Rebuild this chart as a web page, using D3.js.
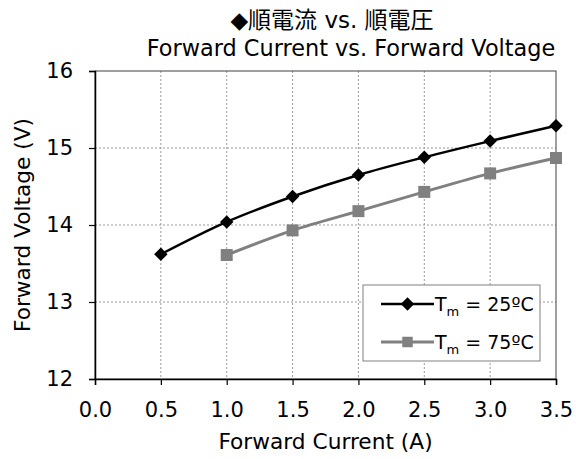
<!DOCTYPE html>
<html>
<head>
<meta charset="utf-8">
<script src="https://cdn.jsdelivr.net/npm/d3@7"></script>
<style>
  body { margin: 0; background: #fff; }
  svg text { font-family: "DejaVu Sans", Verdana, "Noto Sans CJK JP", sans-serif; fill: #000; }
</style>
</head>
<body>
<svg id="chart" width="576" height="459"></svg>
<script>
// values
var current25 = [0.5, 1.0, 1.5, 2.0, 2.5, 3.0, 3.5];
var voltage25 = [13.62, 14.04, 14.37, 14.65, 14.88, 15.09, 15.29];
var current75 = [1.0, 1.5, 2.0, 2.5, 3.0, 3.5];
var voltage75 = [13.61, 13.93, 14.18, 14.43, 14.67, 14.87];
var xTicks = [0, 0.5, 1.0, 1.5, 2.0, 2.5, 3.0, 3.5];
var yTicks = [12, 13, 14, 15, 16];
var seriesNames = ["25ºC", "75ºC"];

var pLeft = 95, pRight = 556, pTop = 71, pBottom = 379;

var svg = d3.select('#chart');

var x = d3.scaleLinear().domain([0, 3.5]).range([pLeft, pRight]);
var y = d3.scaleLinear().domain([12, 16]).range([pBottom, pTop]);

// dotted grid
var grid = svg.append("g");
grid.selectAll("line.v")
    .data(xTicks.slice(1, -1))
    .enter().append("line")
    .attr("x1", function(d){ return x(d); })
    .attr("x2", function(d){ return x(d); })
    .attr("y1", pTop)
    .attr("y2", pBottom)
    .attr("stroke", "#999")
    .attr("stroke-width", 1)
    .attr("stroke-dasharray", "2,2");
grid.selectAll("line.h")
    .data(yTicks.slice(1, -1))
    .enter().append("line")
    .attr("x1", pLeft)
    .attr("x2", pRight)
    .attr("y1", function(d){ return y(d); })
    .attr("y2", function(d){ return y(d); })
    .attr("stroke", "#999")
    .attr("stroke-width", 1)
    .attr("stroke-dasharray", "2,2");

// plot area frame
svg.append("rect")
    .attr("x", pLeft)
    .attr("y", pTop)
    .attr("width", pRight - pLeft)
    .attr("height", pBottom - pTop)
    .attr("fill", "none")
    .attr("stroke", "#404040")
    .attr("stroke-width", 1);

var xAxis = svg.append("g")
    .attr("transform", "translate(0," + pBottom + ")")
    .call(d3.axisBottom(x).tickValues(xTicks).tickFormat(d3.format(".1f")).tickSize(6).tickPadding(17));
var yAxis = svg.append("g")
    .attr("transform", "translate(" + pLeft + ",0)")
    .call(d3.axisLeft(y).tickValues(yTicks).tickFormat(d3.format("d")).tickSize(6).tickPadding(16));

[xAxis, yAxis].forEach(function(a){
    a.select(".domain").attr("stroke", "#000").attr("stroke-width", 1.5);
    a.selectAll(".tick line").attr("stroke", "#000").attr("stroke-width", 1.2);
    a.selectAll(".tick text").style("font-size", "21px").attr("fill", "#000");
});

// titles
svg.append("text")
    .attr("x", 332)
    .attr("y", 28)
    .style("text-anchor", "middle")
    .style("font-size", "23px")
    .text("◆順電流 vs. 順電圧");
svg.append("text")
    .attr("x", 351)
    .attr("y", 56)
    .style("text-anchor", "middle")
    .style("font-size", "22.4px")
    .text("Forward Current vs. Forward Voltage");
svg.append("text")
    .attr("x", (pLeft + pRight) / 2)
    .attr("y", 449)
    .style("text-anchor", "middle")
    .style("font-size", "21.7px")
    .text("Forward Current (A)");
svg.append("text")
    .attr("transform", "translate(30," + ((pTop + pBottom) / 2) + ") rotate(-90)")
    .style("text-anchor", "middle")
    .style("font-size", "21.7px")
    .text("Forward Voltage (V)");

// smoothed lines like the spreadsheet chart
var line = d3.line()
    .x(function(d){ return x(d[0]); })
    .y(function(d){ return y(d[1]); })
    .curve(d3.curveCatmullRom.alpha(0));

var pts25 = d3.zip(current25, voltage25);
var pts75 = d3.zip(current75, voltage75);

svg.append("path")
    .datum(pts75)
    .attr("d", line)
    .attr("fill", "none")
    .attr("stroke", "#808080")
    .attr("stroke-width", 3);
svg.append("path")
    .datum(pts25)
    .attr("d", line)
    .attr("fill", "none")
    .attr("stroke", "#000")
    .attr("stroke-width", 2.5);

var square = d3.symbol().type(d3.symbolSquare).size(144);
var diamond = d3.symbol().type(d3.symbolSquare).size(90);

svg.selectAll("path.sq")
    .data(pts75)
    .enter().append("path")
    .attr("d", square)
    .attr("transform", function(d){ return "translate(" + x(d[0]) + "," + y(d[1]) + ")"; })
    .attr("fill", "#808080");
svg.selectAll("path.dm")
    .data(pts25)
    .enter().append("path")
    .attr("d", diamond)
    .attr("transform", function(d){ return "translate(" + x(d[0]) + "," + y(d[1]) + ") rotate(45)"; })
    .attr("fill", "#000");

// legend
var lg = svg.append("g");
lg.append("rect")
    .attr("x", 363)
    .attr("y", 285)
    .attr("width", 177)
    .attr("height", 76)
    .attr("fill", "#fff")
    .attr("stroke", "#808080")
    .attr("stroke-width", 1);

var legendRows = [
    {name: seriesNames[0], color: "#000", sym: diamond, rot: 45, w: 2.5, cy: 304},
    {name: seriesNames[1], color: "#808080", sym: d3.symbol().type(d3.symbolSquare).size(110), rot: 0, w: 3, cy: 342}
];
legendRows.forEach(function(r){
    lg.append("line")
        .attr("x1", 381)
        .attr("x2", 434)
        .attr("y1", r.cy)
        .attr("y2", r.cy)
        .attr("stroke", r.color)
        .attr("stroke-width", r.w);
    lg.append("path")
        .attr("d", r.sym)
        .attr("transform", "translate(407.5," + r.cy + ") rotate(" + r.rot + ")")
        .attr("fill", r.color);
    var t = lg.append("text")
        .attr("x", 435)
        .attr("y", r.cy + 7)
        .style("font-size", "19px");
    t.append("tspan").text("T");
    t.append("tspan").attr("dy", 5).style("font-size", "13px").text("m");
    t.append("tspan").attr("dy", -5).text(" = " + r.name);
});
</script>
</body>
</html>
